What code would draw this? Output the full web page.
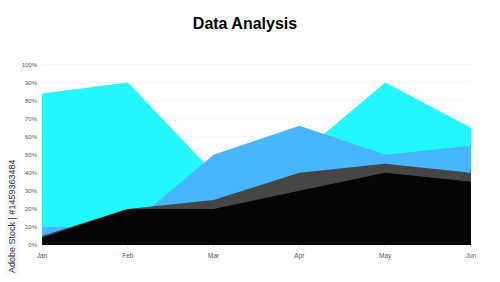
<!DOCTYPE html>
<html>
<head>
<meta charset="utf-8">
<script src="https://cdn.jsdelivr.net/npm/d3@7"></script>
<style>
  body { margin: 0; background: #fff; }
  svg { display: block; font-family: "Liberation Sans", Arial, sans-serif; }
</style>
</head>
<body>
<div id="chart"></div>
<script>
//months on x axis
const months = ["Jan", "Feb", "Mar", "Apr", "May", "Jun"];

//series values (percent), drawn back to front
const cyanValues = [84, 90, 40, 50, 90, 65];
const blueValues = [10, 10, 50, 66, 50, 55];
const grayValues = [5, 20, 25, 40, 45, 40];
const blackValues = [4, 20, 20, 30, 40, 35];

const yTicks = [0, 10, 20, 30, 40, 50, 60, 70, 80, 90, 100];

const series = [
  { key: "cyan", values: cyanValues, color: "#22f7ff" },
  { key: "blue", values: blueValues, color: "#47b6ff" },
  { key: "gray", values: grayValues, color: "#464646" },
  { key: "black", values: blackValues, color: "#050505" },
];

//size
const width = 500;
const height = 282;
const margin = { top: 64.5, right: 29, bottom: 37, left: 42 };

const svg = d3
  .select("#chart")
  .append("svg")
  .attr("width", width)
  .attr("height", height);

const x = d3
  .scalePoint()
  .domain(months)
  .range([margin.left, width - margin.right]);

const y = d3
  .scaleLinear()
  .domain([0, 100])
  .range([height - margin.bottom, margin.top]);

//title
svg
  .append("text")
  .attr("x", 245)
  .attr("y", 29)
  .attr("text-anchor", "middle")
  .attr("font-size", 16)
  .attr("font-weight", "bold")
  .attr("fill", "#000")
  .text("Data Analysis");

//grid lines
svg
  .append("g")
  .selectAll("line")
  .data(yTicks)
  .join("line")
  .attr("x1", margin.left)
  .attr("x2", width - margin.right)
  .attr("y1", (d) => y(d))
  .attr("y2", (d) => y(d))
  .attr("stroke", "#ececec")
  .attr("stroke-width", 0.6);

//areas
const area = d3
  .area()
  .x((d, i) => x(months[i]))
  .y0(y(0))
  .y1((d) => y(d));

svg
  .append("g")
  .selectAll("path")
  .data(series)
  .join("path")
  .attr("fill", (d) => d.color)
  .attr("d", (d) => area(d.values));

//y axis labels
svg
  .append("g")
  .selectAll("text")
  .data(yTicks)
  .join("text")
  .attr("x", 37)
  .attr("y", (d) => y(d))
  .attr("dy", "0.35em")
  .attr("text-anchor", "end")
  .attr("font-size", 6)
  .attr("fill", "#555")
  .text((d) => d + "%");

//x axis ticks and labels
const xAxis = svg.append("g");
xAxis
  .selectAll("line")
  .data(months)
  .join("line")
  .attr("x1", (d) => x(d))
  .attr("x2", (d) => x(d))
  .attr("y1", y(0))
  .attr("y2", y(0) + 3)
  .attr("stroke", "#ccc")
  .attr("stroke-width", 0.6);

xAxis
  .selectAll("text")
  .data(months)
  .join("text")
  .attr("x", (d) => x(d))
  .attr("y", y(0) + 13)
  .attr("text-anchor", "middle")
  .attr("font-size", 6.5)
  .attr("fill", "#555")
  .text((d) => d);

//vertical stock label on the left
const stamp = svg
  .append("g")
  .attr("transform", "translate(12,273) rotate(-90)");
stamp
  .append("rect")
  .attr("x", -2)
  .attr("y", -7)
  .attr("width", 114)
  .attr("height", 14)
  .attr("fill", "#f2f2f2")
  .attr("opacity", 0.8);
stamp
  .append("text")
  .attr("x", 0)
  .attr("y", 0)
  .attr("dy", "0.35em")
  .attr("font-size", 9)
  .attr("fill", "#333")
  .text("Adobe Stock | #1459363484");
</script>
</body>
</html>
